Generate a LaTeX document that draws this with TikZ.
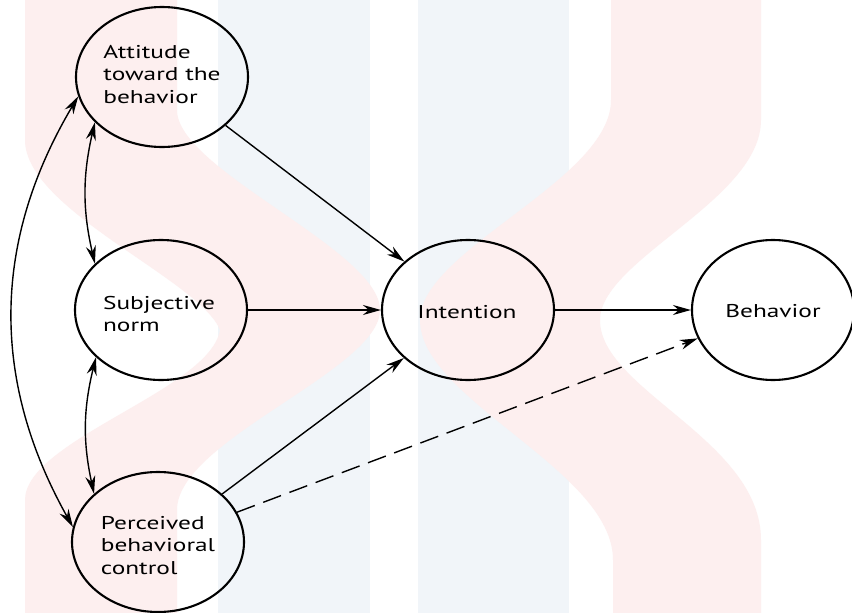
\documentclass[tikz,border=0pt]{standalone}
\usepackage{fontspec}
\setmainfont{PT Sans}
\usepackage{graphicx}
\usetikzlibrary{arrows.meta,shapes.geometric}
\definecolor{wmpink}{RGB}{253,239,239}
\definecolor{wmblue}{RGB}{241,245,249}
\newcommand{\lines}[1]{\scalebox{1.37}[1]{\begin{tabular}{@{}l@{}}#1\end{tabular}}}
\begin{document}
\begin{tikzpicture}[x=1pt,y=-1pt,
  state/.style={draw, line width=2.1pt, ellipse, minimum width=172pt, minimum height=140pt, inner sep=0pt},
  txt/.style={inner sep=0pt, font=\fontsize{18.5}{22.5}\selectfont},
  link/.style={line width=1.4pt, -{Stealth[length=18pt,width=10pt]}},
  both/.style={line width=1.4pt, {Stealth[length=18pt,width=10pt]}-{Stealth[length=18pt,width=10pt]}},
  dashedlink/.style={link, dash pattern=on 19pt off 9pt}
]
\useasboundingbox (0,0) rectangle (852,613);
\fill[white] (0,0) rectangle (852,613);
% watermark
\fill[wmblue] (218,0) rectangle (370,613);
\fill[wmblue] (418,0) rectangle (569,613);
\fill[wmpink] (25,0) -- (25,140) .. controls (25,210) and (200,280) .. (220,330)
  .. controls (210,390) and (25,440) .. (25,500) -- (25,613) -- (177,613) -- (177,510)
  .. controls (177,440) and (380,370) .. (380,310) .. controls (380,250) and (177,170) .. (177,110)
  -- (177,0) -- cycle;
\fill[wmpink] (611,0) -- (611,100) .. controls (611,180) and (420,250) .. (420,320)
  .. controls (420,400) and (613,470) .. (613,560) -- (613,613) -- (761,613) -- (761,540)
  .. controls (761,440) and (600,390) .. (600,320) .. controls (600,260) and (761,200) .. (761,120)
  -- (761,0) -- cycle;
% ellipses
\node[state] (att) at (162,77) {};
\node[state] (subj) at (161,310) {};
\node[state] (perc) at (158,542) {};
\node[state] (int) at (468,310) {};
\node[state, minimum width=162pt] (beh) at (773,310) {};
% texts
\node[txt] (attT) at (162,76) {\lines{Attitude\\toward the\\behavior}};
\node[txt] (subjT) at (159,316) {\lines{Subjective\\norm}};
\node[txt] (percT) at (158,547) {\lines{Perceived\\behavioral\\control}};
\node[txt] (intT) at (467,314) {\lines{Intention}};
\node[txt] (behT) at (773,313) {\lines{Behavior}};
% connectors
\draw[link] (att) -- (int);
\draw[link] (subj) -- (int);
\draw[link] (perc) -- (int);
\draw[link] (int) -- (beh);
\draw[dashedlink] (perc) -- (beh);
\draw[both] (att.214.5) to[bend right=13] (subj.145);
\draw[both] (subj.216) to[bend right=13] (perc.143);
\draw[both] (att.193) to[bend right=30] (perc.170);
\end{tikzpicture}
\end{document}
